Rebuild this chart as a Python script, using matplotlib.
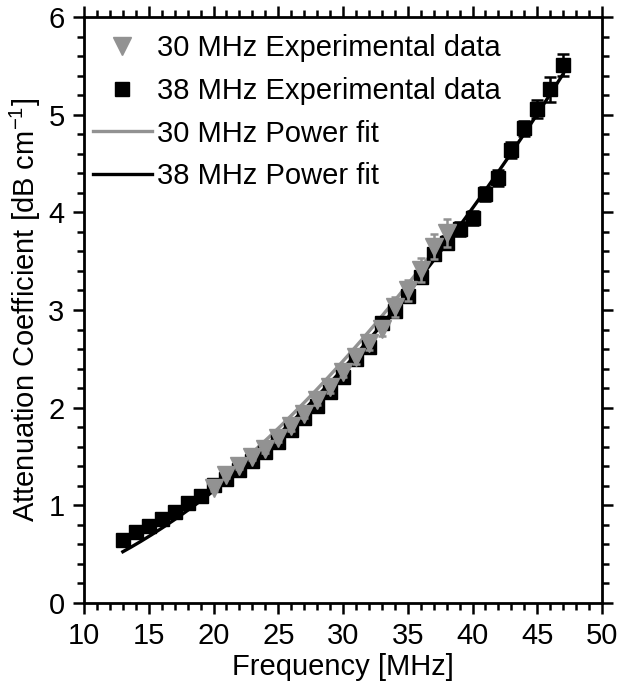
import numpy as np
import matplotlib
matplotlib.use('Agg')
import matplotlib.pyplot as plt

plt.rcParams['font.family'] = ['Liberation Sans', 'DejaVu Sans']
plt.rcParams['mathtext.fontset'] = 'custom'
plt.rcParams['mathtext.rm'] = 'Liberation Sans'
plt.rcParams['mathtext.it'] = 'Liberation Sans:italic'

# 30 MHz transducer, experimental data
freq_30 = [20, 21, 22, 23, 24, 25, 26, 27, 28, 29, 30, 31, 32, 33, 34, 35, 36, 37, 38]
atten_30 = [1.18, 1.31, 1.40, 1.50, 1.58, 1.69, 1.81, 1.94, 2.08, 2.21, 2.37, 2.52,
            2.66, 2.81, 3.03, 3.20, 3.41, 3.65, 3.79]
err_30 = [0.03, 0.03, 0.03, 0.04, 0.04, 0.04, 0.05, 0.05, 0.05, 0.06, 0.06, 0.07,
          0.07, 0.08, 0.10, 0.11, 0.12, 0.13, 0.14]

# 38 MHz transducer, experimental data
freq_38 = [13, 14, 15, 16, 17, 18, 19, 20, 21, 22, 23, 24, 25, 26, 27, 28, 29, 30,
           31, 32, 33, 34, 35, 36, 37, 38, 39, 40, 41, 42, 43, 44, 45, 46, 47]
atten_38 = [0.65, 0.73, 0.79, 0.86, 0.93, 1.02, 1.10, 1.21, 1.27, 1.36, 1.45, 1.55,
            1.65, 1.77, 1.89, 2.02, 2.16, 2.31, 2.50, 2.62, 2.87, 2.99, 3.14, 3.34,
            3.57, 3.69, 3.83, 3.94, 4.19, 4.35, 4.64, 4.86, 5.06, 5.26, 5.51]
err_38 = [0.03, 0.03, 0.03, 0.03, 0.03, 0.03, 0.03, 0.04, 0.04, 0.04, 0.04, 0.04,
          0.04, 0.04, 0.05, 0.05, 0.05, 0.05, 0.05, 0.05, 0.06, 0.06, 0.06, 0.06,
          0.06, 0.07, 0.07, 0.07, 0.07, 0.08, 0.08, 0.08, 0.09, 0.13, 0.11]

# power fit parameters  alpha = a * f^b
fit_30 = (0.00568, 1.787)
fit_38 = (0.00498, 1.816)

fig = plt.figure(figsize=(6.24, 6.91), dpi=100)
ax = fig.add_axes([84/624, 88/691, 518/624, 586/691])

f30 = np.linspace(freq_30[0], freq_30[-1], 200)
f38 = np.linspace(freq_38[0], freq_38[-1], 200)
gray = '#929292'

l30, = ax.plot(f30, fit_30[0] * f30 ** fit_30[1], color=gray, lw=2.4, zorder=1)
l38, = ax.plot(f38, fit_38[0] * f38 ** fit_38[1], color='black', lw=2.4, zorder=1)

e38 = ax.errorbar(freq_38, atten_38, yerr=err_38, fmt='s', color='black', ms=10.5,
                  capsize=4, elinewidth=1.8, capthick=1.8, zorder=2)
e30 = ax.errorbar(freq_30, atten_30, yerr=err_30, fmt='v', color=gray, ms=13.5,
                  capsize=3, elinewidth=1.8, capthick=1.8, zorder=3)

ax.set_xlim(10, 50)
ax.set_ylim(0, 6)
ax.set_xticks(np.arange(10, 51, 5))
ax.set_xticks(np.arange(10, 51, 1), minor=True)
ax.set_yticks(np.arange(0, 7, 1))
ax.set_yticks(np.arange(0, 6.01, 0.2), minor=True)

ax.tick_params(which='both', direction='out', top=True, right=True, width=1.8,
               labelsize=21, pad=6)
ax.tick_params(which='major', length=8)
ax.tick_params(which='minor', length=5)
for s in ax.spines.values():
    s.set_linewidth(2)

ax.set_xlabel('Frequency [MHz]', fontsize=21, labelpad=2)
ax.set_ylabel('Attenuation Coefficient [dB cm$^{-1}$]', fontsize=21, labelpad=4)

ax.legend([e30[0], e38[0], l30, l38],
          ['30 MHz Experimental data', '38 MHz Experimental data',
           '30 MHz Power fit', '38 MHz Power fit'],
          loc='upper left', bbox_to_anchor=(-0.016, 1.0), frameon=False, fontsize=21,
          handlelength=2.0, handletextpad=0.2, labelspacing=0.5,
          borderaxespad=0.1, borderpad=0.5, numpoints=1)

fig.savefig('out.png', dpi=100)
